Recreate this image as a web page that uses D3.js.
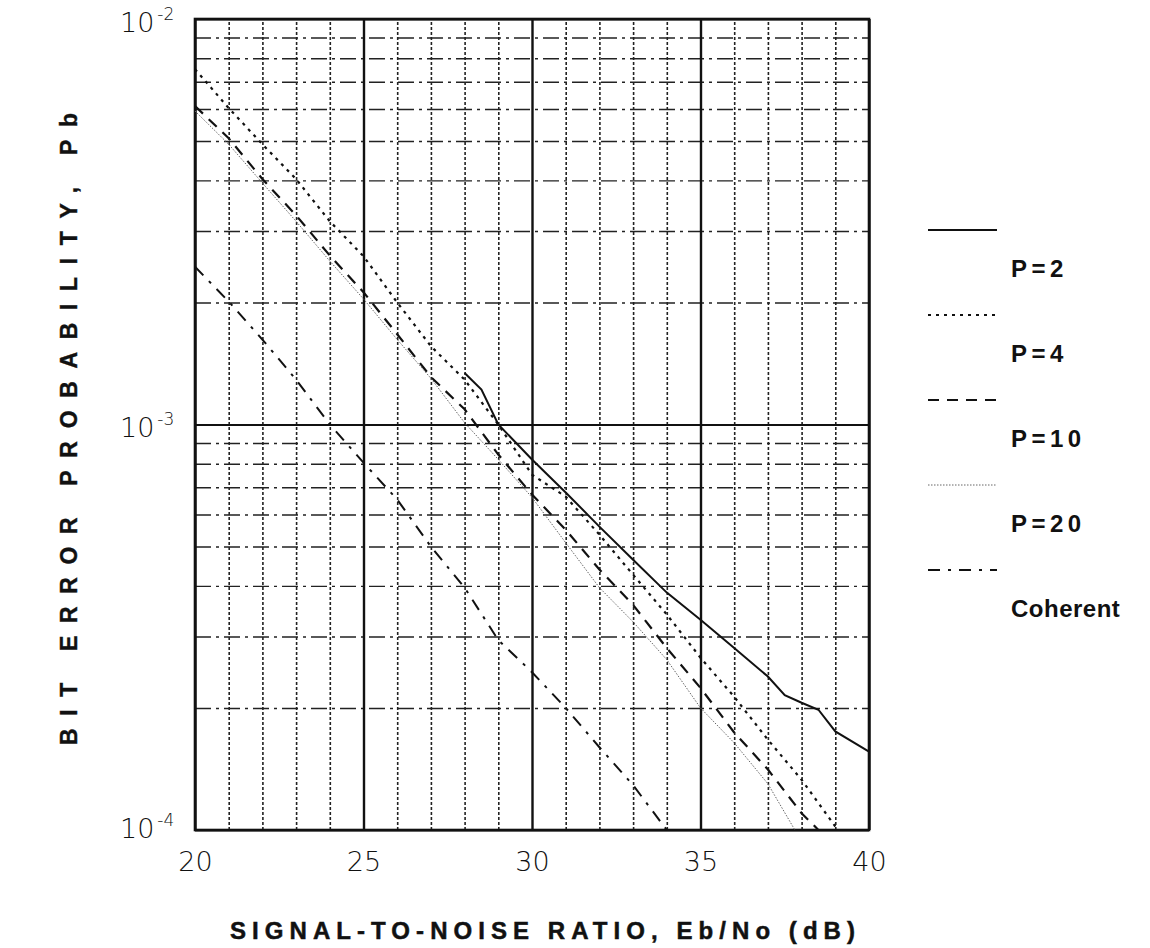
<!DOCTYPE html>
<html>
<head>
<meta charset="utf-8">
<script src="https://cdn.jsdelivr.net/npm/d3@7"></script>
<style>
  body { margin: 0; background: #fff; }
  svg { display: block; }
  .lbl { font-family: "DejaVu Sans", "Liberation Sans", sans-serif; font-weight: 200; fill: #111; }
  .bold { font-family: "Liberation Sans", Arial, sans-serif; font-weight: bold; fill: #111; }
</style>
</head>
<body>
<svg id="chart" width="1150" height="948"></svg>
<script>
// tick values
var xLabels = [20, 25, 30, 35, 40];
var xMinor = [21, 22, 23, 24, 26, 27, 28, 29, 31, 32, 33, 34, 36, 37, 38, 39];
var yDecades = [1e-4, 1e-3, 1e-2];
var yDecadeExp = ["-4", "-3", "-2"];
var yMinor = [2e-4, 3e-4, 4e-4, 5e-4, 6e-4, 7e-4, 8e-4, 9e-4,
              2e-3, 3e-3, 4e-3, 5e-3, 6e-3, 7e-3, 8e-3, 9e-3];

// series (Eb/No in dB, bit error probability)
var p2Snr = [28, 28.5, 29, 30, 31, 32, 33, 34, 35, 36, 37, 37.5, 38, 38.5, 39, 40];
var p2Pb  = [1.34e-3, 1.22e-3, 1.0e-3, 8.2e-4, 6.8e-4, 5.6e-4, 4.64e-4, 3.85e-4, 3.3e-4,
             2.81e-4, 2.39e-4, 2.15e-4, 2.06e-4, 1.98e-4, 1.75e-4, 1.56e-4];

var p4Snr = [20, 21, 22, 23, 24, 25, 26, 27, 28, 29, 30, 31, 32, 33, 34, 35, 36, 37, 38, 39];
var p4Pb  = [7.52e-3, 6.03e-3, 4.91e-3, 4.03e-3, 3.17e-3, 2.6e-3, 2.0e-3, 1.56e-3, 1.29e-3, 1.0e-3,
             7.52e-4, 6.64e-4, 5.35e-4, 4.26e-4, 3.4e-4, 2.66e-4, 2.13e-4, 1.67e-4, 1.33e-4, 1.02e-4];

var p10Snr = [20, 21, 22, 23, 24, 25, 26, 27, 28, 29, 30, 31, 32, 33, 34, 35, 36, 37, 38, 38.5];
var p10Pb  = [6.1e-3, 5.08e-3, 4.03e-3, 3.28e-3, 2.61e-3, 2.12e-3, 1.67e-3, 1.31e-3, 1.09e-3, 8.43e-4,
              6.72e-4, 5.5e-4, 4.39e-4, 3.59e-4, 2.81e-4, 2.24e-4, 1.74e-4, 1.41e-4, 1.1e-4, 1.0e-4];

var p20Snr = [20, 21, 22, 23, 24, 25, 26, 27, 28, 29, 30, 31, 32, 33, 34, 35, 36, 37, 37.8];
var p20Pb  = [5.93e-3, 4.91e-3, 3.94e-3, 3.17e-3, 2.53e-3, 2.04e-3, 1.62e-3, 1.3e-3, 1.01e-3, 8.2e-4,
              6.61e-4, 5.11e-4, 3.96e-4, 3.26e-4, 2.63e-4, 2.0e-4, 1.64e-4, 1.3e-4, 1.0e-4];

var cohSnr = [20, 21, 22, 23, 24, 25, 26, 27, 28, 29, 30, 31, 32, 33, 34];
var cohPb  = [2.45e-3, 2.01e-3, 1.62e-3, 1.29e-3, 1.0e-3, 8.05e-4, 6.53e-4, 5.0e-4, 3.96e-4, 2.94e-4,
              2.45e-4, 2.0e-4, 1.6e-4, 1.29e-4, 1.0e-4];

var seriesNames = ["P=2", "P=4", "P=10", "P=20", "Coherent"];

var svg = d3.select("#chart"),
    margin = {top: 19, right: 281, bottom: 118, left: 195},
    width = +svg.attr("width") - margin.left - margin.right,
    height = +svg.attr("height") - margin.top - margin.bottom;

var x = d3.scaleLinear().domain([20, 40]).range([0, width]);
var y = d3.scaleLog().domain([1e-4, 1e-2]).range([height, 0]);

var g = svg.append("g")
    .attr("transform", "translate(" + margin.left + "," + margin.top + ")");

// grid: minor verticals
g.append("g")
    .attr("transform", "translate(0," + height + ")")
    .call(d3.axisBottom(x).tickValues(xMinor).tickSize(-height).tickFormat(""))
    .call(function(a) {
      a.select(".domain").remove();
      a.selectAll("line").attr("stroke", "#222").attr("stroke-width", 1.6)
        .attr("stroke-dasharray", "3,2");
    });

// grid: minor horizontals
g.append("g")
    .call(d3.axisLeft(y).tickValues(yMinor).tickSize(-width).tickFormat(""))
    .call(function(a) {
      a.select(".domain").remove();
      a.selectAll("line").attr("stroke", "#222").attr("stroke-width", 1.4)
        .attr("stroke-dasharray", "16,5,3,5");
    });

// grid: major verticals
g.append("g")
    .attr("transform", "translate(0," + height + ")")
    .call(d3.axisBottom(x).tickValues(xLabels).tickSize(-height).tickFormat(""))
    .call(function(a) {
      a.select(".domain").remove();
      a.selectAll("line").attr("stroke", "#111").attr("stroke-width", 2.4);
    });

// grid: decade horizontals
g.append("g")
    .call(d3.axisLeft(y).tickValues(yDecades).tickSize(-width).tickFormat(""))
    .call(function(a) {
      a.select(".domain").remove();
      a.selectAll("line").attr("stroke", "#111").attr("stroke-width", 2.2);
    });

// frame
g.append("rect")
    .attr("width", width).attr("height", height)
    .attr("fill", "none").attr("stroke", "#111").attr("stroke-width", 2.6);

// x tick labels
g.append("g")
    .attr("transform", "translate(0," + height + ")")
    .call(d3.axisBottom(x).tickValues(xLabels).tickSize(0).tickPadding(22).tickFormat(d3.format("d")))
    .call(function(a) {
      a.select(".domain").remove();
      a.selectAll("text").attr("class", "lbl").attr("font-size", 27).attr("fill", "#111");
    });

// y tick labels, 10 with superscript exponent
var yl = g.append("g").selectAll("text")
    .data(yDecades)
    .enter().append("text")
    .attr("class", "lbl")
    .attr("x", -75)
    .attr("y", function(d, i) { return y(d) + [8, 12, 13][i]; })
    .attr("font-size", 27);
yl.append("tspan").text("10");
yl.append("tspan")
    .attr("dy", -12).attr("dx", 3).attr("font-size", 17)
    .text(function(d, i) { return yDecadeExp[i]; });

// curves
var styles = [
  {dash: null, w: 2, c: "#111"},
  {dash: "3,5", w: 2.2, c: "#111"},
  {dash: "11,8", w: 2.2, c: "#111"},
  {dash: "1.5,1.5", w: 1, c: "#666"},
  {dash: "12,8,3,8", w: 2, c: "#111"}
];
var series = [
  d3.zip(p2Snr, p2Pb), d3.zip(p4Snr, p4Pb), d3.zip(p10Snr, p10Pb),
  d3.zip(p20Snr, p20Pb), d3.zip(cohSnr, cohPb)
];

var line = d3.line()
    .x(function(d) { return x(d[0]); })
    .y(function(d) { return y(d[1]); });

g.append("g").selectAll("path")
    .data(series)
    .enter().append("path")
    .attr("d", line)
    .attr("fill", "none")
    .attr("stroke", function(d, i) { return styles[i].c; })
    .attr("stroke-width", function(d, i) { return styles[i].w; })
    .attr("stroke-dasharray", function(d, i) { return styles[i].dash; });

// legend
var leg = svg.append("g").attr("transform", "translate(928,230)");
var item = leg.selectAll("g")
    .data(seriesNames)
    .enter().append("g")
    .attr("transform", function(d, i) { return "translate(0," + (i * 85) + ")"; });
item.append("line")
    .attr("x1", 0).attr("x2", 69)
    .attr("stroke", function(d, i) { return styles[i].c; })
    .attr("stroke-width", function(d, i) { return styles[i].w; })
    .attr("stroke-dasharray", function(d, i) { return styles[i].dash; });
item.append("text")
    .attr("class", "bold")
    .attr("x", 83).attr("y", 47)
    .attr("font-size", 24)
    .attr("letter-spacing", function(d) { return d === "Coherent" ? 0.5 : 4.5; })
    .text(function(d) { return d; });

// axis titles
svg.append("text")
    .attr("class", "bold")
    .attr("x", 230).attr("y", 939)
    .attr("font-size", 24)
    .attr("stroke", "#111").attr("stroke-width", 0.5)
    .attr("textLength", 625)
    .attr("lengthAdjust", "spacing")
    .text("SIGNAL-TO-NOISE RATIO, Eb/No (dB)");

svg.append("text")
    .attr("class", "bold")
    .attr("transform", "translate(77,745) rotate(-90)")
    .attr("font-size", 23)
    .attr("stroke", "#111").attr("stroke-width", 0.4)
    .attr("textLength", 632)
    .attr("lengthAdjust", "spacing")
    .text("BIT ERROR PROBABILITY, Pb");
</script>
</body>
</html>
